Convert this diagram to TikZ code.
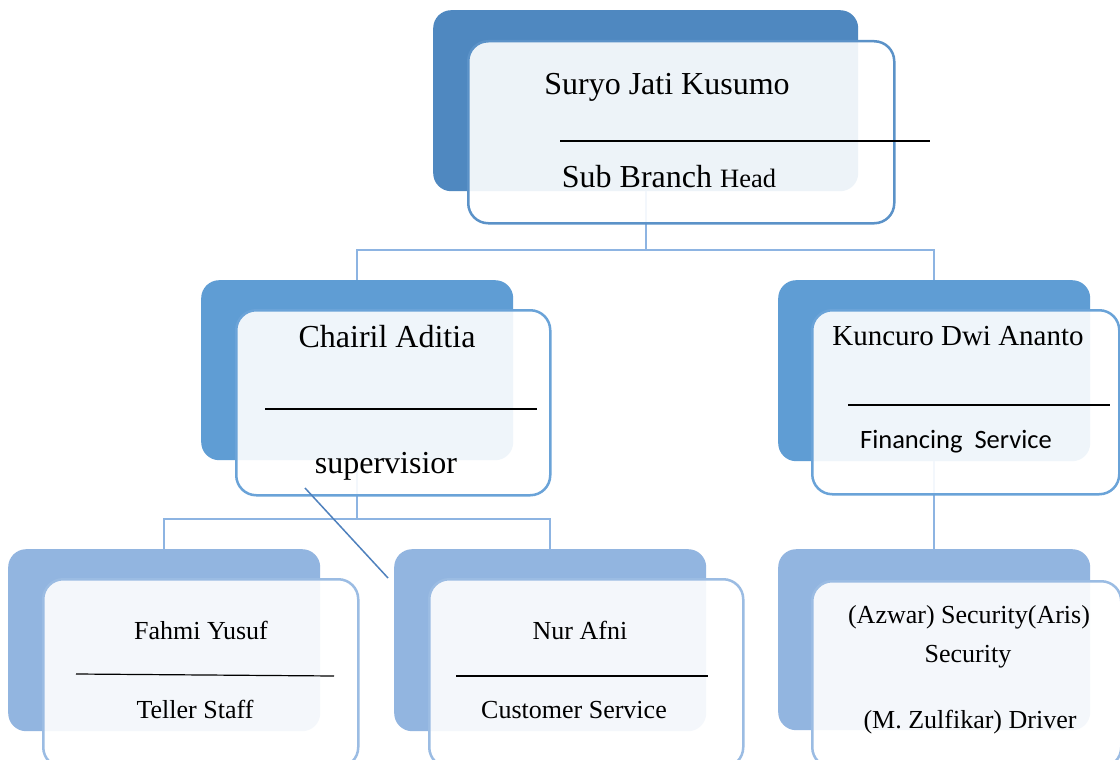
\documentclass[tikz,border=0pt]{standalone}
\usepackage{fontspec}
\setmainfont{Liberation Serif}
\newfontfamily\carl{Carlito}
\definecolor{topblue}{HTML}{4F88C0}
\definecolor{midblue}{HTML}{5F9DD4}
\definecolor{lowblue}{HTML}{92B5E0}
\definecolor{frametop}{HTML}{5B92C8}
\definecolor{framemid}{HTML}{6AA3D8}
\definecolor{framelow}{HTML}{9BBCE3}
\definecolor{connc}{HTML}{8DB4E2}
\definecolor{diagc}{HTML}{4F81BD}
\begin{document}
\begin{tikzpicture}[x=1pt,y=-1pt,
  back/.style={rectangle, rounded corners=18pt, inner sep=0pt, anchor=north west, draw=none},
  front/.style={rectangle, rounded corners=20pt, inner sep=0pt, anchor=north west, fill=white, fill opacity=0.9, line width=2.5pt},
  conn/.style={draw=connc, line width=2pt},
  sep/.style={draw=black, line width=1.2pt},
  big/.style={anchor=base, font=\fontsize{32}{38}\selectfont},
  mid/.style={anchor=base, font=\fontsize{29}{34}\selectfont},
  small/.style={anchor=base, font=\fontsize{26}{31}\selectfont}]
\useasboundingbox (0,0) rectangle (1120,760);
\fill[white] (0,0) rectangle (1120,760);
% back boxes
\node[back, fill=topblue, minimum width=425pt, minimum height=181pt] (topB) at (433,10) {};
\node[back, fill=midblue, minimum width=312pt, minimum height=180pt] (chairB) at (201,280) {};
\node[back, fill=midblue, minimum width=312pt, minimum height=181pt] (kunB) at (778,280) {};
\node[back, fill=lowblue, minimum width=312pt, minimum height=182pt] (fahB) at (8,549) {};
\node[back, fill=lowblue, minimum width=312pt, minimum height=182pt] (nurB) at (394,549) {};
\node[back, fill=lowblue, minimum width=312pt, minimum height=181pt] (azwB) at (778,549) {};
% connectors (under the front boxes)
\draw[conn] (topB.south) -- (topB.south |- 0,250) -| (chairB.north);
\draw[conn] (topB.south |- 0,250) -| (kunB.north);
\draw[conn] (chairB.south) -- (chairB.south |- 0,519) -| (fahB.north);
\draw[conn] (chairB.south |- 0,519) -| (nurB.north);
\draw[conn] (kunB.south) -- (azwB.north);
% front boxes
\node[front, draw=frametop, minimum width=426pt, minimum height=182pt] (topF) at (467,40) {};
\node[front, draw=framemid, minimum width=314pt, minimum height=185pt] (chairF) at (235,309) {};
\node[front, draw=framemid, minimum width=307pt, minimum height=184pt] (kunF) at (811,309) {};
\node[front, draw=framelow, minimum width=315pt, minimum height=188pt] (fahF) at (42,578) {};
\node[front, draw=framelow, minimum width=314pt, minimum height=188pt] (nurF) at (428,578) {};
\node[front, draw=framelow, minimum width=309pt, minimum height=186pt] (azwF) at (811,580) {};
% stray diagonal line
\coordinate (d1) at (305,488);
\coordinate (d2) at (388,578);
\draw[draw=diagc, line width=1.5pt] (d1) -- (d2);
% separator lines
\coordinate (s1a) at (560,141); \coordinate (s1b) at (930,141);
\coordinate (s2a) at (265,409); \coordinate (s2b) at (537,409);
\coordinate (s3a) at (848,405); \coordinate (s3b) at (1110,405);
\coordinate (s4a) at (76,674);  \coordinate (s4b) at (334,676);
\coordinate (s5a) at (456,676); \coordinate (s5b) at (708,676);
\draw[sep] (s1a) -- (s1b);
\draw[sep] (s2a) -- (s2b);
\draw[sep] (s3a) -- (s3b);
\draw[sep] (s4a) -- (s4b);
\draw[sep] (s5a) -- (s5b);
% texts
\node[big] (t1) at (667,95) {Suryo Jati Kusumo};
\node[big] (t2) at (669,187) {Sub Branch {\fontsize{26.5}{31}\selectfont Head}};
\node[big] (t3) at (387,347) {Chairil Aditia};
\node[big] (t4) at (386,473) {supervisior};
\node[mid] (t5) at (958,345) {Kuncuro Dwi Ananto};
\node[small, font=\carl\fontsize{26.5}{31}\selectfont] (t6) at (956,448) {Financing\ \ Service};
\node[small] (t7) at (201,639) {Fahmi Yusuf};
\node[small] (t8) at (195,718) {Teller Staff};
\node[small] (t9) at (580,639) {Nur Afni};
\node[small] (t10) at (574,718) {Customer Service};
\node[small] (t11) at (969,623) {(Azwar) Security(Aris)};
\node[small] (t12) at (968,662) {Security};
\node[small] (t13) at (970,728) {(M. Zulfikar) Driver};
\end{tikzpicture}
\end{document}
